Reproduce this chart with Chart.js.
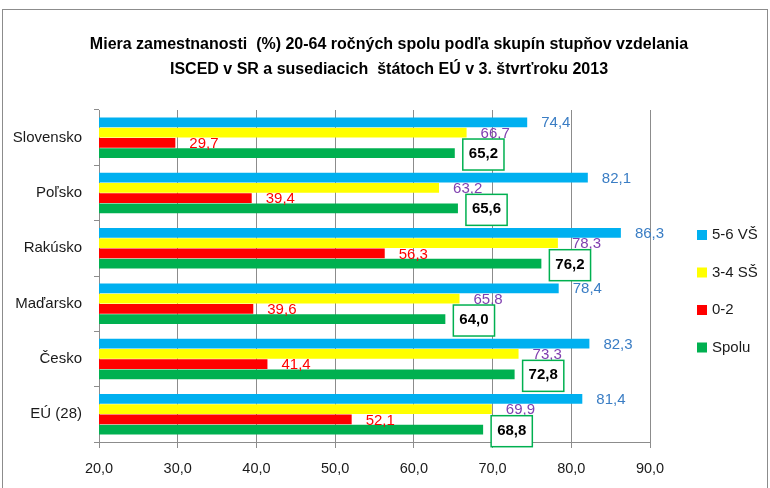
<!DOCTYPE html>
<html>
<head>
<meta charset="utf-8">
<script src="https://cdn.jsdelivr.net/npm/chart.js@4.4.1/dist/chart.umd.min.js"></script>
<style>
  html, body { margin: 0; padding: 0; background: #fff; }
  #wrap { width: 770px; height: 488px; position: relative; }
</style>
</head>
<body>
<div id="wrap"><canvas id="c"></canvas></div>
<script>
// categories and series, top to bottom as in the picture
const countries = ['Slovensko', 'Poľsko', 'Rakúsko', 'Maďarsko', 'Česko', 'EÚ (28)'];
const vs56   = [74.4, 82.1, 86.3, 78.4, 82.3, 81.4];
const ss34   = [66.7, 63.2, 78.3, 65.8, 73.3, 69.9];
const isc02  = [29.7, 39.4, 56.3, 39.6, 41.4, 52.1];
const spolu  = [65.2, 65.6, 76.2, 64.0, 72.8, 68.8];
const seriesNames = ['5-6 VŠ', '3-4 SŠ', '0-2', 'Spolu'];
const titleLines = [
  'Miera zamestnanosti  (%) 20-64 ročných spolu podľa skupín stupňov vzdelania',
  'ISCED v SR a susediacich  štátoch EÚ v 3. štvrťroku 2013'
];

const FONT = "'Liberation Sans', Arial, sans-serif";
const fillColors = ['#00b0f0', '#ffff00', '#ff0000', '#00b050'];
const labelColors = ['#3a7dc4', '#8040b0', '#ff0000', '#000000'];

const fmt = v => v.toFixed(1).replace('.', ',');

// border around the whole chart + title centred on the page
const frame = {
  id: 'frame',
  beforeDraw(chart) {
    const ctx = chart.ctx;
    ctx.save();
    ctx.strokeStyle = '#8c8c8c';
    ctx.lineWidth = 1;
    ctx.strokeRect(2.5, 9.5, chart.width - 5, chart.height + 10);
    ctx.fillStyle = '#000';
    ctx.font = 'bold 16px ' + FONT;
    ctx.textAlign = 'center';
    ctx.textBaseline = 'middle';
    titleLines.forEach((t, i) => ctx.fillText(t, chart.width / 2 + 4, 45 + i * 25));
    ctx.restore();
  }
};

// value labels next to bar ends
const valueLabels = {
  id: 'valueLabels',
  afterDatasetsDraw(chart) {
    const ctx = chart.ctx;
    ctx.save();
    ctx.textBaseline = 'middle';
    ctx.textAlign = 'left';
    chart.data.datasets.forEach((ds, di) => {
      const meta = chart.getDatasetMeta(di);
      meta.data.forEach((bar, i) => {
        const txt = fmt(ds.data[i]);
        const x = bar.x + 14;
        const y = bar.y + 1;
        if (di === 3) {
          ctx.font = 'bold 15px ' + FONT;
          const w = ctx.measureText(txt).width;
          ctx.fillStyle = '#fff';
          ctx.fillRect(x - 6, y - 15, w + 12, 31);
          ctx.strokeStyle = '#00b050';
          ctx.lineWidth = 1.5;
          ctx.strokeRect(x - 6, y - 15, w + 12, 31);
        } else {
          ctx.font = '15px ' + FONT;
        }
        ctx.fillStyle = labelColors[di];
        ctx.fillText(txt, x, y);
      });
    });
    ctx.restore();
  }
};

// legend on the right
const sideLegend = {
  id: 'sideLegend',
  afterDraw(chart) {
    const ctx = chart.ctx;
    const area = chart.chartArea;
    ctx.save();
    ctx.font = '15px ' + FONT;
    ctx.textBaseline = 'middle';
    ctx.textAlign = 'left';
    const x0 = area.right + 47;
    const y0 = 235;
    seriesNames.forEach((name, i) => {
      const y = y0 + i * 37.5;
      ctx.fillStyle = fillColors[i];
      ctx.fillRect(x0, y - 5, 10, 10);
      ctx.fillStyle = '#1a1a1a';
      ctx.fillText(name, x0 + 15, y);
    });
    ctx.restore();
  }
};

const datasets = [vs56, ss34, isc02, spolu].map((data, i) => ({
  label: seriesNames[i],
  data: data,
  backgroundColor: fillColors[i],
  borderWidth: 0,
  categoryPercentage: 0.74,
  barPercentage: 0.95
}));

new Chart(document.getElementById('c'), {
  type: 'bar',
  data: { labels: countries, datasets: datasets },
  options: {
    indexAxis: 'y',
    responsive: true,
    maintainAspectRatio: false,
    animation: false,
    layout: { padding: { left: 4, right: 120, top: 110, bottom: 8 } },
    plugins: {
      legend: { display: false },
      tooltip: { enabled: false },
      title: { display: false }
    },
    scales: {
      x: {
        min: 20,
        max: 90,
        ticks: {
          stepSize: 10,
          color: '#1a1a1a',
          font: { family: FONT, size: 14.5 },
          padding: 12,
          callback: v => fmt(v)
        },
        grid: { color: '#8c8c8c', lineWidth: 1, tickLength: 6, drawTicks: true },
        border: { color: '#8c8c8c', width: 1 },
        afterFit: s => { s.height = 38; }
      },
      y: {
        ticks: {
          color: '#1a1a1a',
          font: { family: FONT, size: 15 },
          padding: 12
        },
        grid: { drawOnChartArea: false, color: '#8c8c8c', tickLength: 5 },
        border: { color: '#8c8c8c', width: 1 },
        afterFit: s => { s.width = 95; }
      }
    }
  },
  plugins: [frame, valueLabels, sideLegend]
});
</script>
</body>
</html>
